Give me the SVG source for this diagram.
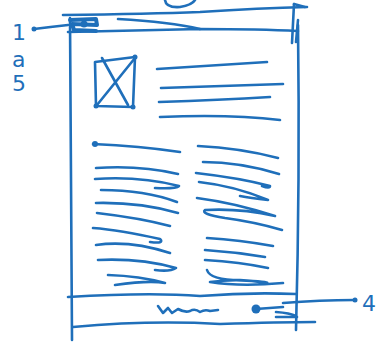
<svg xmlns="http://www.w3.org/2000/svg" width="382" height="345" viewBox="0 0 382 345">
<style>
.s{fill:none;stroke:#1f6fba;stroke-width:2.6;stroke-linecap:round;stroke-linejoin:round}
.d{fill:#1f6fba}
.t{font-family:"DejaVu Sans",sans-serif;font-size:22px;fill:#1f6fba}
</style>
<rect width="382" height="345" fill="#fff"/>
<g id="header">
<path class="s" d="M165,0 Q166,8 180,7 Q192,5 195,0"/>
<path class="s" d="M63,15 Q150,14 200,12 Q260,8 307,7"/>
<path class="s" d="M294,4 L305,7"/>
<path class="s" d="M68,32 Q150,30 200,29 Q260,29 298,31"/>
<path class="s" d="M118,19 Q170,22 200,29"/>
<path class="s" d="M292,43 L294,4"/>
<path class="s" d="M296,42 L298,20"/>
<path class="s" d="M70,20 L96,19 L97,25 L72,24 L74,30 L96,31" style="stroke-width:4"/>
<circle class="d" cx="84" cy="24" r="3.5"/>
</g>
<g id="page">
<path class="s" d="M70,18 L72,340"/>
<path class="s" d="M298,25 Q300,180 296,330"/>
</g>
<g id="image">
<path class="s" d="M95,62 L135,57 L133,107 L96,106 Z"/>
<path class="s" d="M102,58 L128,105 M135,58 L97,105"/>
<circle class="d" cx="96" cy="106" r="2.5"/><circle class="d" cx="133" cy="107" r="2.5"/><circle class="d" cx="135" cy="57" r="2.5"/>
</g>
<g id="intro">
<path class="s" d="M157,69 L267,62 M161,88 L283,84 M159,102 Q220,100 270,97 M160,117 Q230,114 280,120"/>
</g>
<g id="left-column">
<circle class="d" cx="95" cy="144" r="3"/>
<path class="s" d="M93,144 Q140,146 180,152"/>
<path class="s" d="M96,168 Q140,165 178,174"/>
<path class="s" d="M95,179 Q140,176 179,186 Q176,189 155,188"/>
<path class="s" d="M101,190 Q145,190 177,202"/>
<path class="s" d="M96,203 Q140,202 178,213"/>
<path class="s" d="M97,213 Q140,218 170,226"/>
<path class="s" d="M93,228 Q120,230 160,239 Q165,244 150,242"/>
<path class="s" d="M96,245 Q130,240 170,253"/>
<path class="s" d="M98,260 Q140,258 176,268 Q170,272 155,270"/>
<path class="s" d="M108,275 Q140,276 165,283 Q150,280 115,285"/>
</g>
<g id="right-column">
<path class="s" d="M198,146 Q240,148 278,158"/>
<path class="s" d="M203,162 Q240,162 279,174"/>
<path class="s" d="M196,173 Q240,178 270,186 Q270,189 262,186"/>
<path class="s" d="M199,182 Q235,186 268,200 Q250,198 240,196"/>
<path class="s" d="M197,198 Q235,203 275,216 Q240,208 205,210 Q200,214 225,218 Q255,222 282,230"/>
<path class="s" d="M207,238 Q240,240 273,246"/>
<path class="s" d="M205,250 Q235,252 265,257"/>
<path class="s" d="M205,260 Q240,262 268,268"/>
<path class="s" d="M207,270 Q210,280 240,280 Q270,282 267,283 Q240,278 210,282 Q240,287 283,283"/>
</g>
<g id="footer">
<path class="s" d="M68,297 Q150,292 200,296 Q250,292 296,294"/>
<path class="s" d="M73,327 Q150,320 220,324 Q280,322 315,322"/>
<path class="s" d="M158,306 L163,313 L168,308 L172,313 L178,309 Q185,313 190,311 Q195,308 200,312 Q205,309 210,311 L218,310"/>
<circle class="d" cx="256" cy="309" r="4.5"/>
<path class="s" d="M256,309 L283,307 M276,312 Q290,313 296,316 M276,317 L297,317"/>
</g>
<g id="callouts">
<circle class="d" cx="34" cy="29" r="2.5"/>
<path class="s" d="M34,29 Q50,27 68,25"/>
<path class="s" d="M283,303 Q320,300 355,300"/>
<circle class="d" cx="355" cy="300" r="2.5"/>
<text class="t" x="12" y="40">1</text>
<text class="t" x="12" y="67">a</text>
<text class="t" x="12" y="91">5</text>
<text class="t" x="362" y="311">4</text>
</g>
</svg>
